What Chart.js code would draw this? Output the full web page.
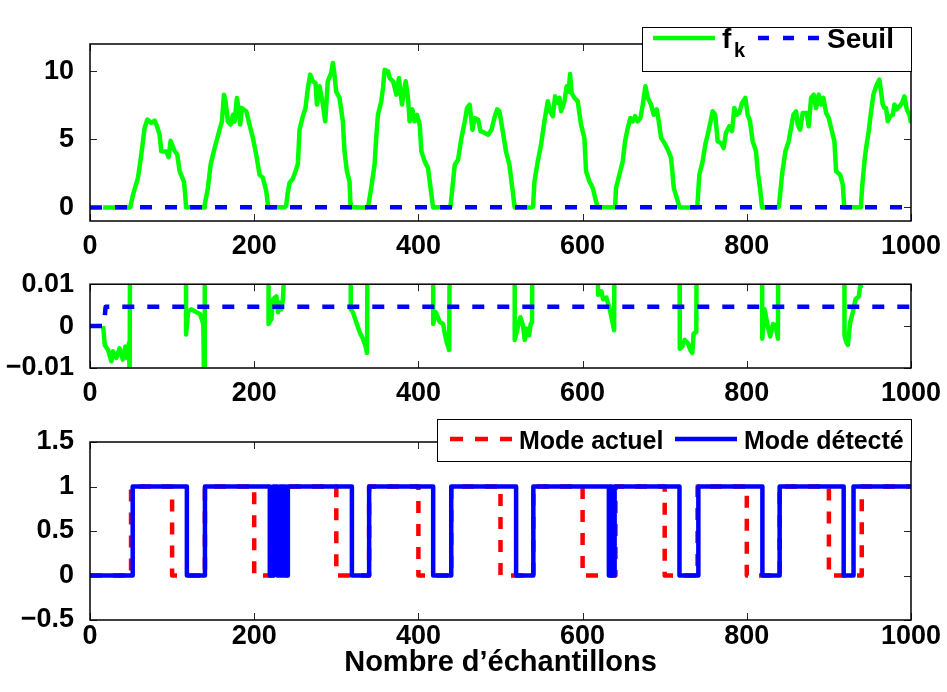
<!DOCTYPE html>
<html>
<head>
<meta charset="utf-8">
<script src="https://cdn.jsdelivr.net/npm/chart.js@4.4.1/dist/chart.umd.min.js"></script>
<style>
  body { margin: 0; background: #fff; }
  #fig { position: relative; width: 947px; height: 692px; background: #fff; }
  #fig canvas { position: absolute; left: 0; }
  #leg { position: absolute; left: 0; top: 0; }
  #leg text { font-family: "Liberation Sans", Arial, sans-serif; font-weight: bold; fill: #000; }
</style>
</head>
<body>
<div id="fig">
  <canvas id="plotFk" width="947" height="260" style="top:0px"></canvas>
  <canvas id="plotZoom" width="947" height="150" style="top:260px"></canvas>
  <canvas id="plotMode" width="947" height="282" style="top:410px"></canvas>
  <svg id="leg" width="947" height="692">
    <rect x="642.5" y="27.5" width="269" height="44" fill="#fff" stroke="#000" stroke-width="1"/>
    <line x1="653" y1="38" x2="715" y2="38" stroke="#00ff00" stroke-width="4.5"/>
    <text x="722" y="48" font-size="28">f</text>
    <text x="734" y="57" font-size="20">k</text>
    <line x1="758" y1="38" x2="820" y2="38" stroke="#0000ff" stroke-width="4.5" stroke-dasharray="11 14"/>
    <text x="827" y="48" font-size="28">Seuil</text>

    <rect x="437.5" y="419.5" width="474" height="42" fill="#fff" stroke="#000" stroke-width="1"/>
    <line x1="450" y1="439" x2="512" y2="439" stroke="#ff0000" stroke-width="4.5" stroke-dasharray="13 12"/>
    <text x="519" y="449" font-size="25">Mode actuel</text>
    <line x1="675" y1="439" x2="737" y2="439" stroke="#0000ff" stroke-width="4.5"/>
    <text x="744" y="449" font-size="25">Mode détecté</text>
  </svg>
</div>
<script>
// ticks
var xTicks = [0, 200, 400, 600, 800, 1000];
var yTicksFk = [0, 5, 10];
var yTicksZoom = [-0.01, 0, 0.01];
var yTicksMode = [-0.5, 0, 0.5, 1, 1.5];

// f_k (sample index, value)
var fkX = [16, 18, 22, 26, 28, 32, 36, 40, 43, 45, 47.5, 48.3, 49.2, 52.4, 58.4, 62.5, 66.5, 69.8, 74.7, 78.7,
  81.6, 84.8, 86.8, 93, 95.8, 98.2, 102.3, 106.3, 109.2, 114.4, 116, 117, 119.5, 123.5, 129.8, 133.9, 136, 138, 138.9, 139.8,
  143.6, 146.9, 151.8, 157.8, 160.7, 163.1, 165.1, 168, 171.2, 174.1, 176.1, 178.9, 180.9, 183, 185, 190.3, 194.3, 198.4, 202.5, 206.5,
  210.6, 214.7, 216.7, 217.5, 221, 223, 227, 229, 231, 233, 235, 237, 239, 240.5, 243, 247, 251, 253.2, 255.2, 259.3,
  262.5, 265.4, 268.2, 271.4, 274.7, 276.4, 279.6, 283.7, 286.5, 289.6, 293.8, 295.8, 297.8, 299.8, 303.9, 308, 310, 312.9, 316.1, 317.2,
  317.6, 320.2, 324.3, 328.4, 332.4, 335.7, 337.4, 338.8, 342.5, 346.6, 348.6, 350.7, 354.8, 356.9, 358.9, 363, 365, 369.1, 373.2, 376.3,
  380, 384.5, 387.3, 389.3, 392.6, 395.4, 398.3, 401.6, 403.6, 407.6, 411.7, 413.8, 417.2, 418, 421.2, 424, 426, 430.1, 432.2, 434.2,
  437.5, 439, 440.2, 444.3, 448.3, 452.4, 456.5, 459.3, 462.4, 465.8, 468.6, 472.7, 475.6, 480.9, 484.9, 489, 493.1, 495.9, 498.7, 502.7,
  506.7, 510.8, 514.9, 516.8, 517.3, 521.4, 524.2, 527.4, 529.5, 532.3, 534.8, 536.8, 538.4, 539.7, 541.3, 545.4, 549.4, 553.5, 557.6, 560.4,
  563.7, 566.5, 569.8, 571.8, 573.8, 577.9, 580.6, 583.1, 584.7, 586.7, 590, 594, 598.1, 602.2, 604.2, 608.3, 612.4, 616.4, 618, 618.8,
  622.9, 624.9, 629, 633.1, 636.4, 638.4, 639.6, 640.7, 644.8, 648.9, 651.7, 655, 658.2, 661.1, 663.9, 667.2, 670.4, 673.3, 676.5, 679.4,
  683.4, 686.7, 690.3, 692.8, 695.6, 699.7, 703.8, 707.8, 711.1, 716, 717.8, 718.4, 721.4, 724.3, 728.3, 731.2, 733.6, 735.2, 738.5, 739.7,
  742.2, 746.2, 749.4, 752.3, 755.1, 758.4, 761.6, 764.5, 768.5, 771.8, 774.6, 778.7, 782, 784.8, 787.6, 790.9, 794.1, 798.2, 801.1, 803.9,
  807.2, 811.2, 813.3, 816.1, 818.4, 818.8, 821.6, 825.7, 828.5, 831.8, 835, 837.9, 839.1, 842.9, 847, 851, 853.9, 856.7, 860, 862,
  864.9, 868.1, 873, 875.4, 878.3, 881.5, 884.4, 887.6, 890.5, 893.3, 896.6, 899.8, 902.7, 906.7, 908.8, 913.7, 916.9, 918.6, 919, 921,
  923.1, 925.9, 929.2, 932.4, 936.5, 938, 939, 940.4, 943.3, 945.3, 948.5, 951.4, 954.2, 957.5, 961.5, 963.5, 965.6, 967.6, 969.6, 971.7,
  974.5, 977.8, 979.8, 982.7, 985.9, 989.2, 992, 994.9, 998.1, 1000];
var fkY = [0, -0.0045, -0.0057, -0.0084, -0.006, -0.0076, -0.0053, -0.008, -0.0049, -0.0076, -0.004, -0.013, 0.05, 0.93, 2.16, 3.87, 5.83, 6.45, 6.2, 6.37,
  5.96, 5.34, 4.12, 4.1, 3.68, 4.9, 4.24, 3.87, 2.65, 1.9, 0.93, -0.002, 0.0035, 0.004, 0.0033, 0.0029, 0.0017, 0.0005, -0.013, 0.2,
  1.42, 3.14, 4.36, 5.7, 6.3, 8.28, 7.8, 6.3, 6.08, 6.8, 6.3, 8.04, 7.3, 6.08, 7.3, 7.06, 6.08, 5.1, 3.87, 2.4,
  2.16, 1.18, 0.2, 0.0005, 0.0017, 0.0064, 0.0071, 0.0033, 0.0056, 0.004, 0.0064, 0.015, 0.12, 0.93, 1.8, 2.1, 2.77, 3.2, 5.7, 6.7,
  7.3, 8.77, 9.75, 9.26, 9.14, 7.55, 8.9, 7.55, 6.32, 9.26, 9.88, 10.6, 9.75, 8.5, 8.04, 6.32, 4.12, 2.65, 1.9, 0.3,
  0.004, 0.0033, 0.0009, -0.0014, -0.003, -0.0049, -0.0064, 0.05, 1.42, 3.14, 5.1, 6.8, 7.8, 8.77, 10.1, 10, 9.5, 9.26, 8.28, 9.5,
  7.55, 9.26, 8.04, 6.32, 7.2, 6.32, 6.8, 6.08, 4.12, 3.38, 2.9, 1.9, 0.3, 0.0005, 0.0033, 0.002, 0.001, 0.0005, -0.0018, -0.0037,
  -0.0057, 0.05, 0.7, 3.14, 3.5, 5.1, 6.32, 7.3, 7.55, 5.7, 6.57, 6.45, 5.6, 5.47, 5.34, 5.7, 6.7, 7.2, 7.06, 5.6,
  4.1, 3.14, 1.18, 0.2, -0.0033, 0, 0.0021, 0.0002, -0.0033, -0.0006, -0.0022, 0.0005, 0.0009, 0.05, 1.9, 3.38, 4.6, 6.32, 7.8, 7.06,
  6.7, 8.16, 7.67, 8.04, 7.06, 7.8, 8.9, 8.5, 9.8, 8.4, 8.04, 7.8, 6.08, 5.1, 2.65, 1.9, 1.42, 0.44, 0.03, 0.0075,
  0.0083, 0.0064, 0.0068, 0.004, 0.0009, -0.001, 0.05, 1.42, 2.4, 3.38, 4.85, 5.83, 6.57, 6.32, 6.7, 6.32, 6.57, 7.55, 8.9, 8.04,
  7.55, 6.8, 7.2, 6.32, 5.1, 4.73, 4.24, 3.63, 1.42, 0.44, 0.05, -0.0054, -0.0049, -0.0033, -0.0041, -0.0057, -0.0064, -0.0018, -0.0014, 0.05,
  2.4, 3.38, 4.6, 5.34, 6.08, 7.06, 6.8, 4.85, 4.73, 4.36, 5.47, 5.96, 5.6, 7.3, 6.8, 6.94, 7.67, 8.04, 6.8, 6.32,
  4.85, 4.12, 2.65, 1.42, 0.07, -0.003, 0.004, -0.0002, -0.0025, 0.0005, 0.0002, -0.003, 0.05, 2.4, 4.12, 4.85, 5.83, 6.8, 7.06, 6.08,
  5.7, 6.94, 6.94, 5.96, 8.04, 8.28, 7.3, 8.28, 7.55, 8.04, 6.94, 6.57, 5.83, 4.85, 2.65, 2.4, 1.67, 0.07, -0.0022, -0.0037,
  -0.0045, 0.0009, 0.0033, 0.0064, 0.0071, 0.0095, 0.1, 1.42, 3.38, 4.36, 5.6, 7.06, 8.28, 8.9, 9.39, 8.5, 7.55, 7.3, 7.3, 6.32,
  6.7, 6.8, 7.55, 7.2, 7.43, 7.67, 8.16, 7.2, 6.8, 6.2];

// threshold
var seuilX = [0, 17, 19, 1000];
var seuilY = [0, 0, 0.0046, 0.0046];

// modes: value holds from x until the next x
var actuelX = [0, 50, 100, 140, 200, 240, 300, 340, 400, 440, 500, 540, 600, 640, 700, 740, 800, 840, 900, 940, 1000];
var actuelY = [0, 1, 0, 1, 0, 1, 0, 1, 0, 1, 0, 1, 0, 1, 0, 1, 0, 1, 0, 1, 1];
var detecteX = [0, 52, 118, 140, 219, 223, 228, 231, 234, 236, 238, 241, 319, 340, 418, 440, 519, 540, 632, 634, 636, 639, 718, 741, 819, 840, 918, 930, 1000];
var detecteY = [0, 1, 0, 1, 0, 1, 0, 1, 0, 1, 0, 1, 0, 1, 0, 1, 0, 1, 0, 1, 0, 1, 0, 1, 0, 1, 0, 1, 1];

function pts(xs, ys) {
    var out = [];
    for (var i = 0; i < xs.length; i++) out.push({ x: xs[i], y: ys[i] });
    return out;
}

function minusLabel(v) {
    return v < 0 ? '\u2212' + Math.abs(v) : String(v);
}

var tickFont = { family: '"Liberation Sans", Arial, sans-serif', size: 27, weight: 'bold' };

// MATLAB style box with inward ticks on all four sides
var boxPlugin = {
    id: 'box',
    beforeDatasetsDraw: function (chart) {
        var ctx = chart.ctx, a = chart.chartArea, sx = chart.scales.x, sy = chart.scales.y;
        ctx.save();
        ctx.strokeStyle = '#262626';
        ctx.lineWidth = 1;
        ctx.beginPath();
        sx.ticks.forEach(function (t) {
            var p = Math.round(sx.getPixelForValue(t.value)) + 0.5;
            ctx.moveTo(p, a.bottom); ctx.lineTo(p, a.bottom - 7);
            ctx.moveTo(p, a.top); ctx.lineTo(p, a.top + 7);
        });
        sy.ticks.forEach(function (t) {
            var p = Math.round(sy.getPixelForValue(t.value)) + 0.5;
            ctx.moveTo(a.left, p); ctx.lineTo(a.left + 7, p);
            ctx.moveTo(a.right, p); ctx.lineTo(a.right - 7, p);
        });
        ctx.stroke();
        ctx.restore();
    },
    afterDraw: function (chart) {
        var ctx = chart.ctx, a = chart.chartArea;
        ctx.save();
        ctx.strokeStyle = '#000';
        ctx.lineWidth = 1.5;
        ctx.strokeRect(a.left, a.top, a.right - a.left, a.bottom - a.top);
        ctx.restore();
    }
};

function makePlot(id, datasets, yMin, yMax, yTicks, padTop, xAxisH, labelPad, title) {
    return new Chart(id, {
        type: 'line',
        data: { datasets: datasets },
        plugins: [boxPlugin],
        options: {
            responsive: false,
            animation: false,
            events: [],
            layout: { autoPadding: false, padding: { top: padTop, right: 36, bottom: 0, left: 0 } },
            plugins: { legend: { display: false }, tooltip: { enabled: false } },
            elements: { point: { radius: 0 }, line: { tension: 0, borderCapStyle: 'butt', borderJoinStyle: 'round' } },
            scales: {
                x: {
                    type: 'linear', min: 0, max: 1000,
                    grid: { display: false }, border: { display: false },
                    afterBuildTicks: function (s) { s.ticks = xTicks.map(function (v) { return { value: v }; }); },
                    afterFit: function (s) { s.height = xAxisH; },
                    ticks: { font: tickFont, color: '#000', padding: labelPad, maxRotation: 0,
                        callback: function (v) { return String(v); } },
                    title: title ? { display: true, text: title, color: '#000',
                        font: { family: '"Liberation Sans", Arial, sans-serif', size: 29, weight: 'bold' },
                        padding: { top: 0, bottom: 12 } } : { display: false }
                },
                y: {
                    type: 'linear', min: yMin, max: yMax,
                    grid: { display: false }, border: { display: false },
                    afterBuildTicks: function (s) { s.ticks = yTicks.map(function (v) { return { value: v }; }); },
                    afterFit: function (s) { s.width = 90; },
                    ticks: { font: tickFont, color: '#000', padding: 8, callback: minusLabel }
                }
            }
        }
    });
}

makePlot('plotFk', [
    { data: pts(seuilX, seuilY), borderColor: '#0000ff', borderWidth: 4.5, borderDash: [12, 13], clip: 0 },
    { data: pts(fkX, fkY), borderColor: '#00ff00', borderWidth: 4.5, clip: 0 }
], -1, 12, yTicksFk, 44, 39, 1, null);

makePlot('plotZoom', [
    { data: pts(seuilX, seuilY), borderColor: '#0000ff', borderWidth: 4.5, borderDash: [12, 13], clip: 0 },
    { data: pts(fkX, fkY), borderColor: '#00ff00', borderWidth: 4.5, clip: 0 }
], -0.01, 0.01, yTicksZoom, 21, 42, 1, null);

makePlot('plotMode', [
    { data: pts(detecteX, detecteY), borderColor: '#0000ff', borderWidth: 4.5, stepped: 'before', clip: 0 },
    { data: pts(actuelX, actuelY), borderColor: '#ff0000', borderWidth: 4.5, borderDash: [12, 11], stepped: 'before', clip: 0 }
], -0.5, 1.5, yTicksMode, 32, 72, -8, 'Nombre d\u2019échantillons');
</script>
</body>
</html>
